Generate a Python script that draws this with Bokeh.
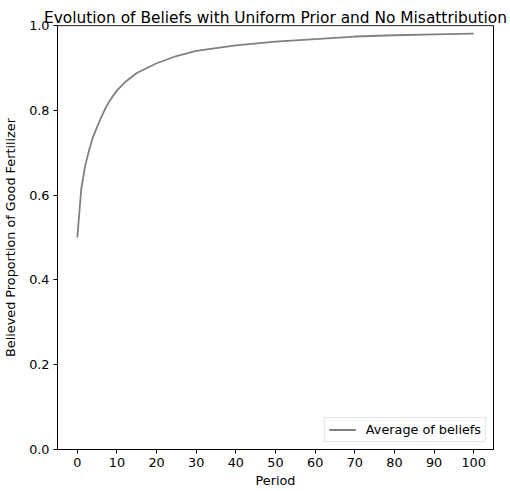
from bokeh.plotting import figure
from bokeh.models import Range1d, FixedTicker, NumeralTickFormatter, Span
from bokeh.embed import file_html
from bokeh.resources import INLINE

# Data
periods = [0, 1, 2, 3, 4, 5, 6, 7, 8, 10, 12, 15, 20, 25, 30, 40, 50, 60, 70, 80, 90, 100]
avg_beliefs = [0.500, 0.615, 0.670, 0.707, 0.738, 0.761, 0.783, 0.803, 0.820, 0.847,
               0.866, 0.888, 0.911, 0.928, 0.940, 0.953, 0.962, 0.968, 0.974, 0.977,
               0.979, 0.981]
x_ticks = [0, 10, 20, 30, 40, 50, 60, 70, 80, 90, 100]
y_ticks = [0.0, 0.2, 0.4, 0.6, 0.8, 1.0]

FONT = "DejaVu Sans"
LBL = "12.8px"

p = figure(frame_width=436, frame_height=424,
           min_border_left=57, min_border_right=17, min_border_top=25, min_border_bottom=42,
           x_range=Range1d(-5, 105), y_range=Range1d(0, 1),
           output_backend="svg", toolbar_location=None,
           title="Evolution of Beliefs with Uniform Prior and No Misattribution")

p.title.text_font = FONT
p.title.text_font_size = "15.4px"
p.title.text_font_style = "normal"
p.title.align = "center"
p.title.text_color = "black"
p.title.standoff = -2

p.xgrid.visible = False
p.ygrid.visible = False
p.outline_line_color = "black"
p.outline_line_width = 1

for ax in (p.xaxis[0], p.yaxis[0]):
    ax.major_label_text_font = FONT
    ax.major_label_text_font_size = LBL
    ax.major_label_text_color = "black"
    ax.axis_label_text_font = FONT
    ax.axis_label_text_font_size = LBL
    ax.axis_label_text_font_style = "normal"
    ax.axis_label_text_color = "black"
    ax.major_tick_in = 0
    ax.major_tick_out = 4
    ax.minor_tick_in = 0
    ax.minor_tick_out = 0
    ax.axis_line_color = "black"
    ax.major_tick_line_color = "black"

p.xaxis.ticker = FixedTicker(ticks=x_ticks)
p.yaxis.ticker = FixedTicker(ticks=y_ticks)
p.yaxis.formatter = NumeralTickFormatter(format="0.0")
p.xaxis.axis_label = "Period"
p.yaxis.axis_label = "Believed Proportion of Good Fertilizer"
p.xaxis.major_label_standoff = 4
p.xaxis.axis_label_standoff = 3
p.yaxis.major_label_standoff = 4
p.yaxis.axis_label_standoff = 8

top_line = Span(location=1.0, dimension="width", line_color="gray", line_width=1.5)
p.add_layout(top_line)

p.line(periods, avg_beliefs, line_color="gray", line_width=1.8, legend_label="Average of beliefs")

lg = p.legend[0]
lg.location = "bottom_right"
lg.margin = 7
lg.padding = 4
lg.glyph_width = 27
lg.glyph_height = 15
lg.label_standoff = 10
lg.label_text_font = FONT
lg.label_text_font_size = LBL
lg.label_text_color = "black"
lg.border_line_color = "#cccccc"
lg.border_line_width = 1
lg.background_fill_alpha = 0.8

open("out.html", "w").write(file_html(p, INLINE))
